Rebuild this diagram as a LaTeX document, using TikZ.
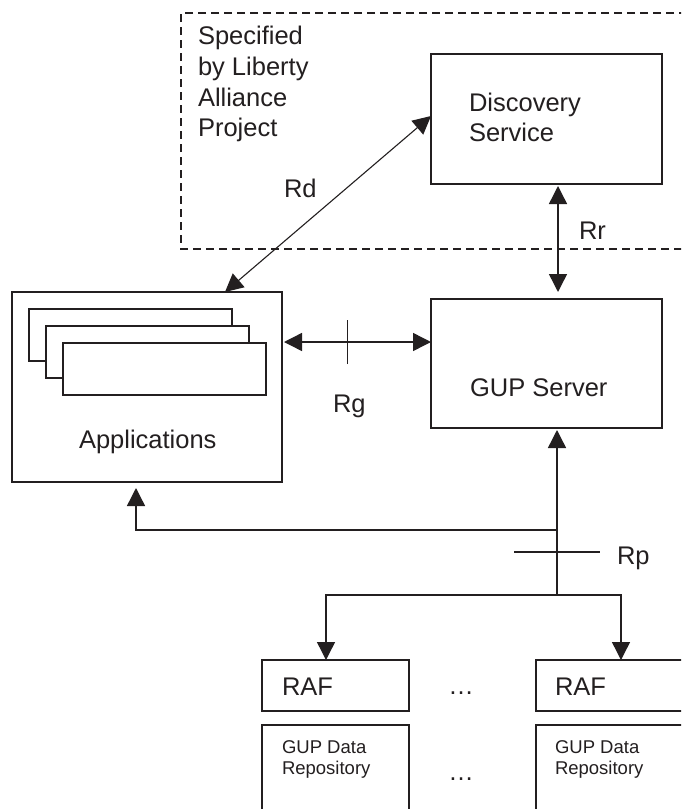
\documentclass[tikz,border=0pt]{standalone}
\usepackage{fontspec}
\setmainfont{Liberation Sans}
\usetikzlibrary{arrows.meta,calc}
\definecolor{ink}{RGB}{35,31,32}
\begin{document}
\begin{tikzpicture}[x=1pt,y=-1pt,
  box/.style={draw=ink, line width=1.4pt, rectangle, inner sep=0pt, outer sep=0pt, anchor=north west, fill=white},
  lbl/.style={text=ink, inner sep=0pt, outer sep=0pt, anchor=base west, font=\fontsize{25.5pt}{30.7pt}\selectfont},
  small/.style={text=ink, inner sep=0pt, outer sep=0pt, anchor=north west, align=left, font=\fontsize{18.5pt}{21.5pt}\selectfont},
  conn/.style={draw=ink, line width=1.4pt},
  tip/.style={-{Triangle[length=18pt,width=18pt]}},
  tips/.style={{Triangle[length=18pt,width=18pt]}-{Triangle[length=18pt,width=18pt]}}
]
\useasboundingbox[fill=white] (0,0) rectangle (681,809);
\begin{scope}
\clip (0,0) rectangle (681,809);
% dashed region
\draw[ink, line width=1.4pt, dash pattern=on 8pt off 5pt] (700,13) -- (181,13) -- (181,249) -- (700,249);
\node[lbl, anchor=north west, align=left] (spec) at (198,26.4) {Specified\\by Liberty\\Alliance\\Project};

% boxes
\node[box, minimum width=231pt, minimum height=130pt] (disc) at (431,54) {};
\node[lbl, anchor=north west, align=left] (disctxt) at (469,92.7) {Discovery\\Service};

\node[box, minimum width=231pt, minimum height=129pt] (gup) at (431,299) {};
\node[lbl] (guptxt) at (470,396) {GUP Server};

\node[box, minimum width=270pt, minimum height=190pt] (apps) at (12,292) {};
\node[box, minimum width=203pt, minimum height=52pt] (app1) at (29,309) {};
\node[box, minimum width=203pt, minimum height=52pt] (app2) at (46,326) {};
\node[box, minimum width=203pt, minimum height=52pt] (app3) at (63,343) {};
\node[lbl] (appstxt) at (79,448) {Applications};

\node[box, minimum width=147pt, minimum height=51pt] (rafL) at (262,660) {};
\node[lbl] (rafLtxt) at (282,695) {RAF};
\node[box, minimum width=147pt, minimum height=51pt] (rafR) at (536,660) {};
\node[lbl] (rafRtxt) at (555,695) {RAF};

\node[box, minimum width=147pt, minimum height=110pt] (repL) at (262,725) {};
\node[small] (repLtxt) at (282,740.5) {GUP Data\\Repository};
\node[box, minimum width=147pt, minimum height=110pt] (repR) at (536,725) {};
\node[small] (repRtxt) at (555,740.5) {GUP Data\\Repository};

\node[lbl, anchor=base] (dots1) at (461,694) {…};
\node[lbl, anchor=base] (dots2) at (461,780) {…};

% labels
\node[lbl] (rd) at (284,197) {Rd};
\node[lbl] (rr) at (579,239) {Rr};
\node[lbl] (rg) at (333,412) {Rg};
\node[lbl] (rp) at (617,564) {Rp};

% connectors
\draw[conn, line width=1.1pt, tips] ([xshift=-57pt]apps.north east) -- ([yshift=3pt]disc.west);
\draw[conn, tips, shorten <=2pt, shorten >=7pt] ([xshift=11.5pt]disc.south) -- ([xshift=11.5pt]gup.north);

\coordinate (rgy) at (0,342);
\draw[conn, tips, shorten <=2pt] (apps.east |- rgy) -- (gup.west |- rgy) coordinate[pos=0.44] (rgt);
\draw[conn] ([yshift=-22pt]rgt) -- ([yshift=22pt]rgt);

\coordinate (gupin) at ([xshift=10.5pt]gup.south);
\coordinate (bus) at (0,595);
\coordinate (appbus) at (0,530);
\coordinate (rpy) at (0,552);
\coordinate (split) at (gupin |- bus);
\coordinate (appsin) at ([xshift=-11pt]apps.south);
\draw[conn, tip, shorten >=2pt] (split) -- (gupin);
\draw[conn, tip, shorten >=6pt] (gupin |- appbus) -| (appsin);
\draw[conn, tip] (split) -| ([xshift=-9.5pt]rafL.north);
\draw[conn, tip] (split) -| ([xshift=11.5pt]rafR.north);
\coordinate (rpt) at (gupin |- rpy);
\draw[conn] ([xshift=-43pt]rpt) -- ([xshift=43pt]rpt);
\end{scope}
\end{tikzpicture}
\end{document}
